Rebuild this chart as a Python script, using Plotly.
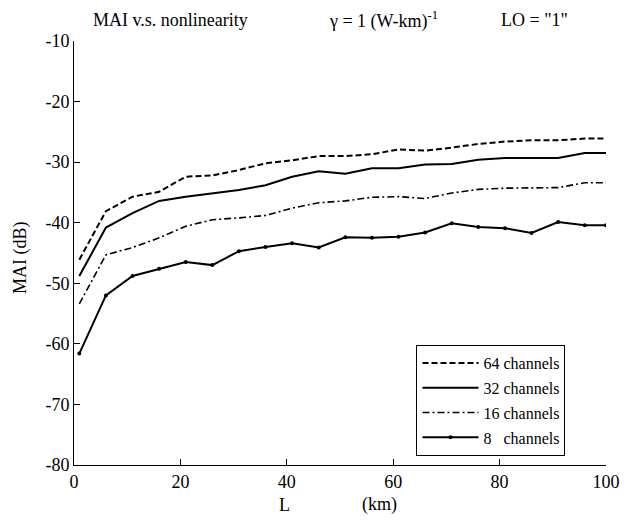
import plotly.graph_objects as go

L_km = [1, 6, 11, 16, 21, 26, 31, 36, 41, 46, 51, 56, 61, 66, 71, 76, 81, 86, 91, 96, 100]
mai_64 = [-46.1, -38.1, -35.7, -34.9, -32.4, -32.2, -31.3, -30.2, -29.7, -29.0, -29.0, -28.7, -27.9, -28.1,
          -27.6, -27.0, -26.6, -26.4, -26.4, -26.1, -26.1]
mai_32 = [-48.8, -40.8, -38.4, -36.4, -35.7, -35.1, -34.6, -33.8, -32.4, -31.5, -31.9, -31.0, -31.0, -30.4,
          -30.3, -29.6, -29.3, -29.3, -29.3, -28.5, -28.5]
mai_16 = [-53.4, -45.3, -44.1, -42.5, -40.6, -39.5, -39.2, -38.8, -37.6, -36.7, -36.4, -35.8, -35.7, -36.0,
          -35.1, -34.5, -34.3, -34.3, -34.2, -33.4, -33.4]
mai_8 = [-61.6, -52.0, -48.8, -47.6, -46.5, -47.0, -44.7, -44.0, -43.4, -44.1, -42.4, -42.5, -42.3, -41.6,
         -40.1, -40.7, -40.9, -41.7, -39.9, -40.4, -40.4]
series_names = ["64 channels", "32 channels", "16 channels", "8   channels"]
x_ticks = [0, 20, 40, 60, 80, 100]
y_ticks = [-80, -70, -60, -50, -40, -30, -20, -10]
y_ticktext = ["-80", "-70", "-60", "-50", "-40", "-30", "-20", "-10"]

FONT = "Liberation Serif"
fig = go.Figure()
styles = [
    (mai_64, dict(color="black", width=2, dash="6px,3px"), "lines"),
    (mai_32, dict(color="black", width=2), "lines"),
    (mai_16, dict(color="black", width=1.6, dash="7px,3px,2px,3px"), "lines"),
    (mai_8, dict(color="black", width=2), "lines+markers"),
]
for i, (ys, line, mode) in enumerate(styles):
    fig.add_trace(go.Scatter(
        x=L_km, y=ys, mode=mode, name=series_names[i], line=line,
        marker=dict(size=4, color="black"), legendgroup=f"g{i}",
    ))

# page has an 8px body margin; compensate so the plot area lands at the reference pixels
fig.update_layout(
    width=624, height=513,
    margin=dict(l=66, r=19, t=33, b=56),
    paper_bgcolor="white", plot_bgcolor="white",
    font=dict(family=FONT, size=17, color="black"),
    legend=dict(
        x=(421 - 74) / 539, y=(465 - 345) / 424, xanchor="left", yanchor="top",
        bordercolor="black", borderwidth=1, bgcolor="white",
        font=dict(family=FONT, size=16), tracegroupgap=1,
        itemwidth=56,
    ),
    showlegend=True,
)
fig.update_xaxes(
    range=[0, 100], tickvals=x_ticks, ticks="inside", ticklen=6, tickcolor="black",
    showline=True, linecolor="black", linewidth=1, showgrid=False, zeroline=False,
    tickfont=dict(family=FONT, size=18),
)
fig.update_yaxes(
    range=[-80, -10], tickvals=y_ticks, ticktext=y_ticktext, ticks="inside", ticklen=6, tickcolor="black",
    showline=True, linecolor="black", linewidth=1, showgrid=False, zeroline=False,
    tickfont=dict(family=FONT, size=18),
)

annots = [
    dict(text="MAI v.s. nonlinearity", x=(91 - 74) / 539, y=1.05, xanchor="left"),
    dict(text="γ = 1 (W-km)<sup>-1</sup>", x=(330 - 74) / 539, y=1.05, xanchor="left"),
    dict(text="LO = \"1\"", x=(505 - 74) / 539, y=1.05, xanchor="left"),
    dict(text="L", x=(287 - 74) / 539, y=-0.094, xanchor="center"),
    dict(text="(km)", x=(384 - 74) / 539, y=-0.094, xanchor="center"),
]
for a in annots:
    fig.add_annotation(xref="paper", yref="paper", showarrow=False, yanchor="middle",
                       font=dict(family=FONT, size=18), **a)
fig.add_annotation(text="MAI (dB)", xref="paper", yref="paper", x=(20 - 74) / 539, y=0.49,
                   textangle=-90, showarrow=False, xanchor="center", yanchor="middle",
                   font=dict(family=FONT, size=18))

fig.write_html("out.html")
